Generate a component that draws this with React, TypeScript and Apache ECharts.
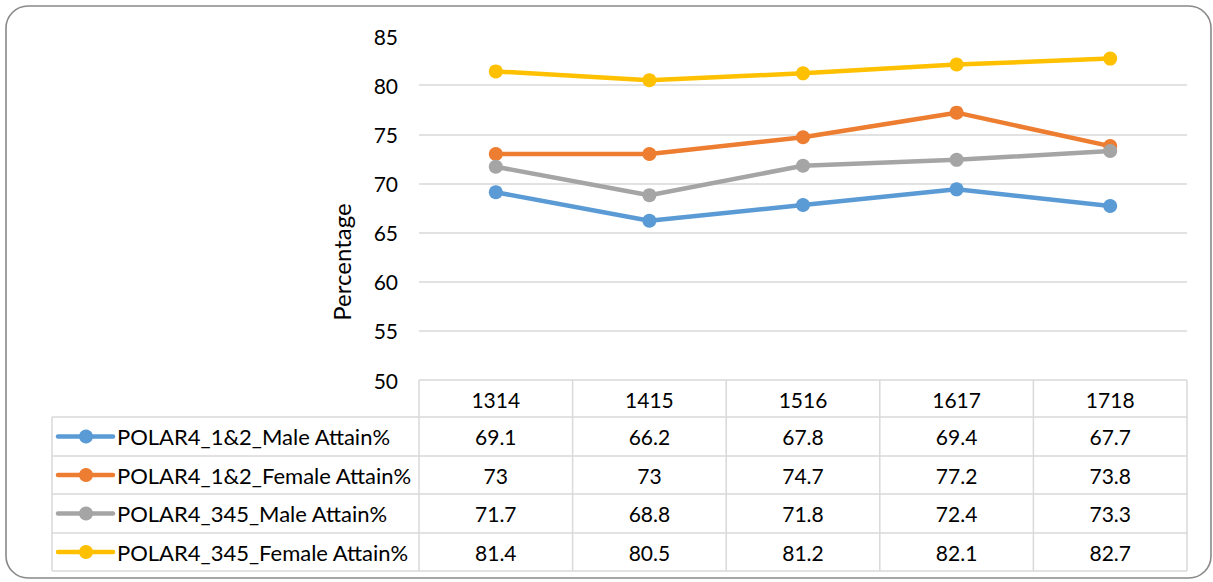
import React, { useEffect, useRef } from "react";
import * as echarts from "echarts";

const categories = ["1314", "1415", "1516", "1617", "1718"];
const seriesNames = [
  "POLAR4_1&2_Male Attain%",
  "POLAR4_1&2_Female Attain%",
  "POLAR4_345_Male Attain%",
  "POLAR4_345_Female Attain%",
];
const maleLow = [69.1, 66.2, 67.8, 69.4, 67.7];
const femaleLow = [73, 73, 74.7, 77.2, 73.8];
const maleHigh = [71.7, 68.8, 71.8, 72.4, 73.3];
const femaleHigh = [81.4, 80.5, 81.2, 82.1, 82.7];
const seriesColors = ["#5B9BD5", "#ED7D31", "#A5A5A5", "#FFC000"];
const yMin = 50;
const yMax = 85;
const yInterval = 5;
const axisTitle = "Percentage";

const FONT = "Lato, 'Open Sans', sans-serif";
const NUM_SIZE = 21;
const LEG_SIZE = 22;

export default function App() {
  const ref = useRef<HTMLDivElement>(null);
  useEffect(() => {
    document.body.style.margin = "0";
    if (!ref.current) return;
    const chart = echarts.init(ref.current, null, { renderer: "svg" });
    const allSeries = [maleLow, femaleLow, maleHigh, femaleHigh];

    const gridLeft = 419;
    const gridRight = 1187;
    const gridTop = 36;
    const gridBottomY = 380;
    const colW = (gridRight - gridLeft) / categories.length;
    const rowLines = [417, 456, 494, 533, 571];
    const tableLeft = 52;
    const lineColor = "#d9d9d9";

    const graphics: any[] = [];
    graphics.push({
      type: "rect",
      shape: { x: 6, y: 6, width: 1205, height: 572, r: 22 },
      style: { fill: "none", stroke: "#898989", lineWidth: 1.6 },
      z: 0,
    });
    rowLines.forEach((y) => {
      graphics.push({
        type: "line",
        shape: { x1: tableLeft, y1: y, x2: gridRight, y2: y },
        style: { stroke: lineColor, lineWidth: 1.5 },
      });
    });
    graphics.push({
      type: "line",
      shape: { x1: tableLeft, y1: rowLines[0], x2: tableLeft, y2: rowLines[rowLines.length - 1] },
      style: { stroke: lineColor, lineWidth: 1.5 },
    });
    for (let i = 0; i <= categories.length; i++) {
      const x = gridLeft + i * colW;
      graphics.push({
        type: "line",
        shape: { x1: x, y1: gridBottomY, x2: x, y2: rowLines[rowLines.length - 1] },
        style: { stroke: lineColor, lineWidth: 1.5 },
      });
    }
    seriesNames.forEach((name, r) => {
      const cy = (rowLines[r] + rowLines[r + 1]) / 2;
      graphics.push({
        type: "line",
        shape: { x1: 58, y1: cy, x2: 113, y2: cy },
        style: { stroke: seriesColors[r], lineWidth: 4.5, lineCap: "round" },
        z: 10,
      });
      graphics.push({
        type: "circle",
        shape: { cx: 86, cy, r: 7 },
        style: { fill: seriesColors[r] },
        z: 11,
      });
      graphics.push({
        type: "text",
        x: 117,
        y: cy,
        style: {
          text: name,
          font: `${LEG_SIZE}px ${FONT}`,
          fill: "#000",
          textAlign: "left",
          textVerticalAlign: "middle",
        },
        z: 11,
      });
      allSeries[r].forEach((v, c) => {
        graphics.push({
          type: "text",
          x: gridLeft + (c + 0.5) * colW,
          y: cy,
          style: {
            text: String(v),
            font: `${NUM_SIZE}px ${FONT}`,
            fill: "#000",
            textAlign: "center",
            textVerticalAlign: "middle",
          },
          z: 11,
        });
      });
    });
    graphics.push({
      type: "text",
      x: 341,
      y: 262,
      rotation: Math.PI / 2,
      style: {
        text: axisTitle,
        font: `24px ${FONT}`,
        fill: "#000",
        textAlign: "center",
        textVerticalAlign: "middle",
      },
    });

    const nLines = Math.round((yMax - yMin) / yInterval) + 1;
    const splitColors = Array.from({ length: nLines }, (_, i) =>
      i === nLines - 1 ? "rgba(0,0,0,0)" : lineColor
    );

    chart.setOption({
      animation: false,
      grid: { left: gridLeft, right: 1213 - gridRight, top: gridTop, bottom: 582 - gridBottomY },
      xAxis: {
        type: "category",
        data: categories,
        boundaryGap: true,
        axisLine: { show: false },
        axisTick: { show: false },
        axisLabel: {
          margin: 9,
          fontFamily: FONT,
          fontSize: NUM_SIZE,
          lineHeight: 21,
          color: "#000",
        },
      },
      yAxis: {
        type: "value",
        min: yMin,
        max: yMax,
        interval: yInterval,
        axisLine: { show: false },
        axisTick: { show: false },
        axisLabel: { margin: 21, fontFamily: FONT, fontSize: NUM_SIZE, color: "#000" },
        splitLine: { show: true, lineStyle: { color: splitColors, width: 1.5 } },
      },
      series: seriesNames.map((name, i) => ({
        name,
        type: "line",
        data: allSeries[i],
        symbol: "circle",
        symbolSize: 14,
        lineStyle: { width: 4.5, color: seriesColors[i] },
        itemStyle: { color: seriesColors[i] },
        z: 3 + i,
      })),
      graphic: graphics,
    });
    return () => chart.dispose();
  }, []);
  return (
    <div
      ref={ref}
      style={{ position: "absolute", left: 0, top: 0, width: 1213, height: 582, background: "#fff" }}
    />
  );
}
